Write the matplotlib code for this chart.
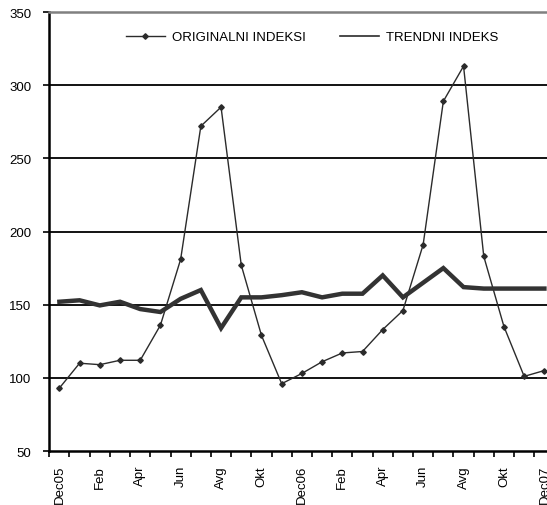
import matplotlib
matplotlib.use('Agg')
import matplotlib.pyplot as plt
from matplotlib.lines import Line2D

plt.rcParams['font.family'] = ['Liberation Sans', 'DejaVu Sans']

# monthly categories Dec05 .. Dec07
months = ['Dec05', 'Jan', 'Feb', 'Mar', 'Apr', 'Maj', 'Jun', 'Jul', 'Avg', 'Sep', 'Okt', 'Nov',
          'Dec06', 'Jan', 'Feb', 'Mar', 'Apr', 'Maj', 'Jun', 'Jul', 'Avg', 'Sep', 'Okt', 'Nov',
          'Dec07']
shown_labels = ['Dec05', 'Feb', 'Apr', 'Jun', 'Avg', 'Okt',
                'Dec06', 'Feb', 'Apr', 'Jun', 'Avg', 'Okt', 'Dec07']

originalni = [93, 110, 109, 112, 112, 136, 181, 272, 285, 177, 129, 96,
              103, 111, 117, 118, 133, 146, 191, 289, 313, 183, 135, 101, 105]
trendni = [152, 153, 149.5, 152, 147, 145, 154, 160, 134, 155, 155, 156.5,
           158.5, 155, 157.5, 157.5, 170, 155, 165, 175, 162, 161, 161, 161, 161]

dark = '#2b2b2b'
fs = 9.5

fig = plt.figure(figsize=(5.47, 5.06), dpi=100)
ax = fig.add_axes([0.0901, 0.1067, 0.9236, 0.8676])

x = list(range(len(months)))
ax.plot(x, originalni, color=dark, lw=1.0, marker='D', markersize=2.8, zorder=3)
ax.plot(x, trendni, color='#333333', lw=3.2, solid_joinstyle='miter', zorder=3)

ax.set_ylim(50, 350)
ax.set_yticks([50, 100, 150, 200, 250, 300, 350])
ax.set_xlim(-0.5, len(months) - 0.5)
for v in [100, 150, 200, 250, 300]:
    ax.axhline(v, color='black', lw=1.3, zorder=1)

# ticks between categories, labels every second month
ax.set_xticks([i - 0.5 for i in range(len(months) + 1)])
ax.set_xticklabels([])
ax.set_xticks(x[::2], minor=True)
ax.set_xticklabels(shown_labels, minor=True, rotation=90, fontsize=fs)
ax.tick_params(axis='x', which='major', length=4, width=1.2, direction='out')
ax.tick_params(axis='x', which='minor', length=0, pad=10)
ax.tick_params(axis='y', length=4, width=1.2, direction='out', labelsize=fs, pad=9)

ax.spines['left'].set_linewidth(1.8)
ax.spines['bottom'].set_linewidth(1.8)
ax.spines['top'].set_color('#808080')
ax.spines['top'].set_linewidth(1.8)
ax.spines['right'].set_visible(False)

handles = [Line2D([], [], color=dark, lw=1.0, marker='D', markersize=2.8),
           Line2D([], [], color=dark, lw=1.2)]
ax.legend(handles, ['ORIGINALNI INDEKSI', 'TRENDNI INDEKS'], ncol=2, frameon=False,
          loc='center', bbox_to_anchor=(0.52, 0.943), fontsize=fs,
          handlelength=3.0, columnspacing=2.6, handletextpad=0.5)

fig.savefig('out.png', dpi=100)
